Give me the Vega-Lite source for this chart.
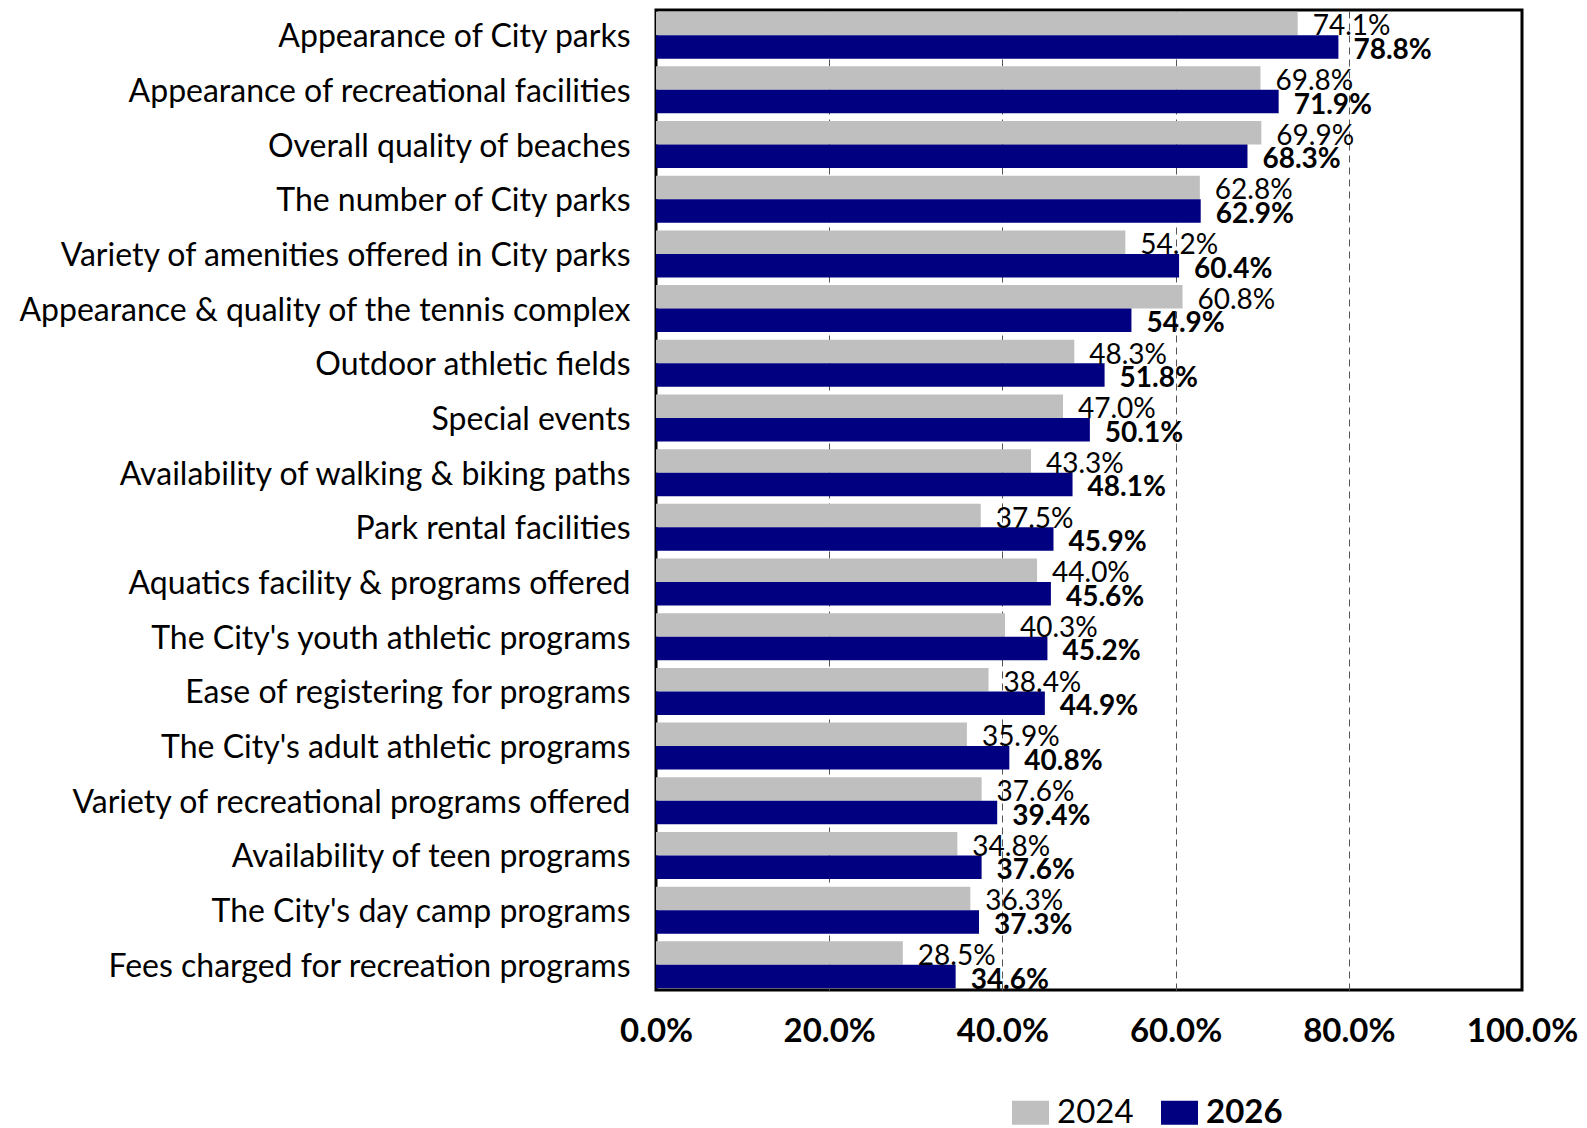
{
  "$schema": "https://vega.github.io/schema/vega-lite/v6.json",
  "width": 866,
  "height": 980,
  "autosize": "none",
  "padding": {"left": 656, "top": 10, "right": 65, "bottom": 138},
  "background": "white",
  "config": {
    "font": "Lato",
    "view": {"stroke": "black", "strokeWidth": 3}
  },
  "data": {
    "values": [
      {"item": "Appearance of City parks", "year": "2024", "value": 0.741},
      {"item": "Appearance of City parks", "year": "2026", "value": 0.788},
      {"item": "Appearance of recreational facilities", "year": "2024", "value": 0.698},
      {"item": "Appearance of recreational facilities", "year": "2026", "value": 0.719},
      {"item": "Overall quality of beaches", "year": "2024", "value": 0.699},
      {"item": "Overall quality of beaches", "year": "2026", "value": 0.683},
      {"item": "The number of City parks", "year": "2024", "value": 0.628},
      {"item": "The number of City parks", "year": "2026", "value": 0.629},
      {"item": "Variety of amenities offered in City parks", "year": "2024", "value": 0.542},
      {"item": "Variety of amenities offered in City parks", "year": "2026", "value": 0.604},
      {"item": "Appearance & quality of the tennis complex", "year": "2024", "value": 0.608},
      {"item": "Appearance & quality of the tennis complex", "year": "2026", "value": 0.549},
      {"item": "Outdoor athletic fields", "year": "2024", "value": 0.483},
      {"item": "Outdoor athletic fields", "year": "2026", "value": 0.518},
      {"item": "Special events", "year": "2024", "value": 0.470},
      {"item": "Special events", "year": "2026", "value": 0.501},
      {"item": "Availability of walking & biking paths", "year": "2024", "value": 0.433},
      {"item": "Availability of walking & biking paths", "year": "2026", "value": 0.481},
      {"item": "Park rental facilities", "year": "2024", "value": 0.375},
      {"item": "Park rental facilities", "year": "2026", "value": 0.459},
      {"item": "Aquatics facility & programs offered", "year": "2024", "value": 0.440},
      {"item": "Aquatics facility & programs offered", "year": "2026", "value": 0.456},
      {"item": "The City's youth athletic programs", "year": "2024", "value": 0.403},
      {"item": "The City's youth athletic programs", "year": "2026", "value": 0.452},
      {"item": "Ease of registering for programs", "year": "2024", "value": 0.384},
      {"item": "Ease of registering for programs", "year": "2026", "value": 0.449},
      {"item": "The City's adult athletic programs", "year": "2024", "value": 0.359},
      {"item": "The City's adult athletic programs", "year": "2026", "value": 0.408},
      {"item": "Variety of recreational programs offered", "year": "2024", "value": 0.376},
      {"item": "Variety of recreational programs offered", "year": "2026", "value": 0.394},
      {"item": "Availability of teen programs", "year": "2024", "value": 0.348},
      {"item": "Availability of teen programs", "year": "2026", "value": 0.376},
      {"item": "The City's day camp programs", "year": "2024", "value": 0.363},
      {"item": "The City's day camp programs", "year": "2026", "value": 0.373},
      {"item": "Fees charged for recreation programs", "year": "2024", "value": 0.285},
      {"item": "Fees charged for recreation programs", "year": "2026", "value": 0.346}
    ]
  },
  "encoding": {
    "y": {
      "field": "item",
      "type": "nominal",
      "sort": null,
      "scale": {"paddingInner": 0.14, "paddingOuter": 0.03},
      "axis": {
        "title": null,
        "domain": false,
        "ticks": false,
        "labelFontSize": 32,
        "labelColor": "black",
        "labelPadding": 26,
        "labelOffset": 2,
        "labelLimit": 700,
        "labelFont": "Lato"
      }
    },
    "yOffset": {
      "field": "year",
      "type": "nominal",
      "scale": {"paddingInner": 0, "paddingOuter": 0}
    },
    "x": {
      "field": "value",
      "type": "quantitative",
      "scale": {"domain": [0, 1], "nice": false},
      "axis": {
        "title": null,
        "values": [0, 0.2, 0.4, 0.6, 0.8, 1.0],
        "format": ".1%",
        "domain": false,
        "ticks": false,
        "labelFontSize": 33,
        "labelFontWeight": "bold",
        "labelColor": "black",
        "labelPadding": 25,
        "labelFont": "Lato",
        "labelFlush": false,
        "grid": true,
        "gridDash": [7, 5],
        "gridWidth": 1,
        "gridColor": {"condition": {"test": "datum.value == 0 || datum.value == 1", "value": "transparent"}, "value": "#555555"}
      }
    }
  },
  "layer": [
    {
      "mark": {"type": "bar"},
      "encoding": {
        "color": {
          "field": "year",
          "type": "nominal",
          "scale": {"domain": ["2024", "2026"], "range": ["#BFBFBF", "#000080"]},
          "legend": {
            "title": null,
            "orient": "none",
            "direction": "horizontal",
            "legendX": 356,
            "legendY": 1084,
            "padding": 0,
            "symbolType": "M-1,-0.65H1V0.65H-1Z",
            "symbolSize": 1369,
            "symbolStrokeWidth": 0,
            "labelFontSize": 33,
            "labelFont": "Lato",
            "labelColor": "black",
            "labelOffset": 8,
            "columnPadding": 27,
            "encode": {
              "labels": {"update": {"fontWeight": {"signal": "datum.value == '2026' ? 'bold' : 'normal'"}}}
            }
          }
        }
      }
    },
    {
      "transform": [{"filter": "datum.year == '2024'"}],
      "mark": {"type": "text", "align": "left", "baseline": "middle", "dx": 15, "dy": 4, "fontSize": 28, "font": "Lato", "color": "black"},
      "encoding": {"text": {"field": "value", "type": "quantitative", "format": ".1%"}}
    },
    {
      "transform": [{"filter": "datum.year == '2026'"}],
      "mark": {"type": "text", "align": "left", "baseline": "middle", "dx": 15, "dy": 4, "fontSize": 28, "font": "Lato", "fontWeight": "bold", "color": "black"},
      "encoding": {"text": {"field": "value", "type": "quantitative", "format": ".1%"}}
    }
  ]
}
